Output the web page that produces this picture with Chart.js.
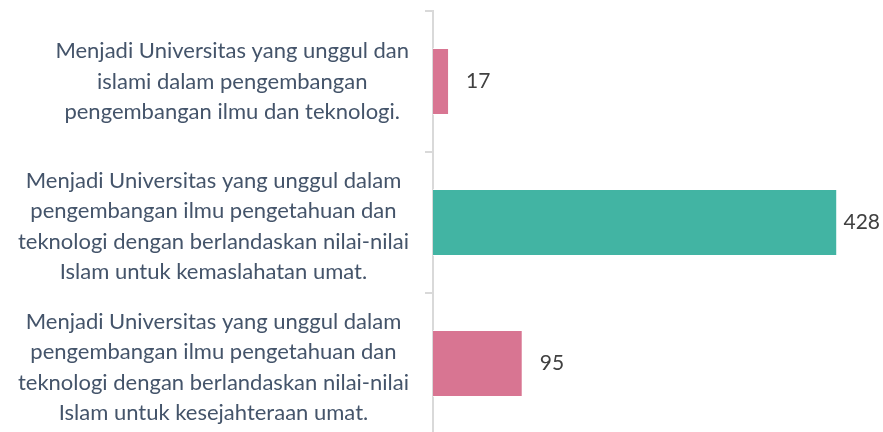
<!DOCTYPE html>
<html>
<head>
<meta charset="utf-8">
<script src="https://cdn.jsdelivr.net/npm/chart.js@4"></script>
<style>
  html, body { margin: 0; padding: 0; background: #fff; overflow: hidden; }
  #wrap { width: 883px; height: 436px; position: relative; }
</style>
</head>
<body>
<div id="wrap"><canvas id="myChart"></canvas></div>
<script>
const categories = [
  ["Menjadi Universitas yang unggul dan", "islami dalam pengembangan", "pengembangan ilmu dan teknologi."],
  ["Menjadi Universitas yang unggul dalam", "pengembangan ilmu pengetahuan dan", "teknologi dengan berlandaskan nilai-nilai", "Islam untuk kemaslahatan umat."],
  ["Menjadi Universitas yang unggul dalam", "pengembangan ilmu pengetahuan dan", "teknologi dengan berlandaskan nilai-nilai", "Islam untuk kesejahteraan umat."]
];
const values = [17, 428, 95];
const barColors = ["#D87592", "#42B4A3", "#D87592"];

const labelFont = '22px "Lato", sans-serif';
const valueFont = '21px "Lato", sans-serif';

// category labels: each block right-aligned to the axis, lines centred inside the block
const categoryLabels = {
  id: "categoryLabels",
  afterDraw(chart) {
    const { ctx, chartArea } = chart;
    const yScale = chart.scales.y;
    ctx.save();
    ctx.font = labelFont;
    ctx.fillStyle = "#44546A";
    ctx.textAlign = "center";
    ctx.textBaseline = "middle";
    const lineH = 30.5;
    categories.forEach((lines, i) => {
      const widest = Math.max(...lines.map(l => ctx.measureText(l).width));
      const cx = chartArea.left - 24 - widest / 2;
      const cy = yScale.getPixelForValue(i);
      // longer blocks sit a little lower in the original
      const top = cy - (lines.length - 1) * lineH / 2 + (lines.length - 3) * 4;
      lines.forEach((l, j) => ctx.fillText(l, cx, top + j * lineH));
    });
    ctx.restore();
  }
};

// value labels at the end of each bar
const valueLabels = {
  id: "valueLabels",
  afterDatasetsDraw(chart) {
    const { ctx } = chart;
    const meta = chart.getDatasetMeta(0);
    ctx.save();
    ctx.font = valueFont;
    ctx.fillStyle = "#404040";
    ctx.textAlign = "left";
    ctx.textBaseline = "middle";
    meta.data.forEach((bar, i) => {
      const txt = String(values[i]);
      const w = ctx.measureText(txt).width;
      const x = Math.min(bar.x + 17, chart.width - w - 3);
      ctx.fillText(txt, x, bar.y);
    });
    ctx.restore();
  }
};

const ctx = document.getElementById("myChart");

const myChart = new Chart(ctx, {
  type: "bar",
  plugins: [categoryLabels, valueLabels],
  data: {
    labels: categories.map(c => c.join(" ")),
    datasets: [
      {
        data: values,
        backgroundColor: barColors,
        borderColor: "rgba(255,255,255,0.7)",
        borderWidth: 1,
        barPercentage: 0.475,
        categoryPercentage: 1,
      },
    ],
  },
  options: {
    indexAxis: "y",
    animation: false,
    responsive: true,
    maintainAspectRatio: false,
    layout: {
      padding: { top: 11, bottom: 2, right: 25, left: 0 }
    },
    plugins: {
      legend: { display: false },
      tooltip: { enabled: false },
    },
    scales: {
      x: {
        display: false,
        min: 0,
        max: 450,
      },
      y: {
        z: 1,
        afterFit(scale) {
          scale.width = 433;
        },
        grid: {
          drawOnChartArea: false,
          offset: true,
          color: "#D9D9D9",
          lineWidth: 2,
          tickLength: 8,
        },
        border: {
          color: "#D9D9D9",
          width: 2,
        },
        ticks: {
          display: false,
        },
      },
    },
  },
});
</script>
</body>
</html>
